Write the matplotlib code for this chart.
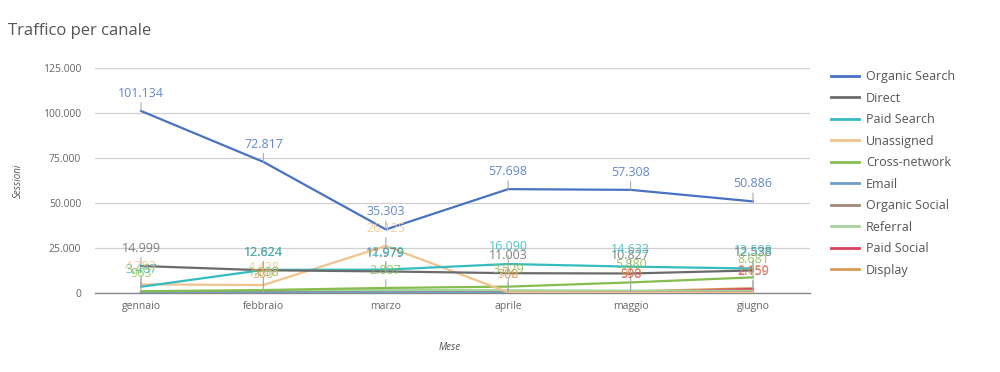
import matplotlib
matplotlib.use("Agg")
import matplotlib.pyplot as plt
from matplotlib.lines import Line2D

plt.rcParams['font.family'] = ['Open Sans', 'DejaVu Sans']

months = ["gennaio", "febbraio", "marzo", "aprile", "maggio", "giugno"]
organic_search = [101134, 72817, 35303, 57698, 57308, 50886]
direct = [14999, 12624, 11979, 11003, 10827, 12538]
paid_search = [3467, 12824, 12979, 16090, 14633, 13598]
unassigned = [4783, 4428, 26125, 362, 245, 180]
cross_network = [963, 1638, 2807, 3529, 5880, 8681]
email = [120, 150, 200, 180, 160, 150]
organic_social = [300, 350, 400, 380, 420, 400]
referral = [700, 900, 1700, 1500, 1300, 1200]
paid_social = [0, 0, 0, 200, 598, 2159]
display = [200, 300, 250, 700, 900, 2650]

series = [
    ("Organic Search", organic_search, "#4a72c2", True),
    ("Direct", direct, "#6b6b6b", True),
    ("Paid Search", paid_search, "#35bcc0", True),
    ("Unassigned", unassigned, "#f0c48c", True),
    ("Cross-network", cross_network, "#86bd4f", True),
    ("Email", email, "#6f9fc4", False),
    ("Organic Social", organic_social, "#a3887a", False),
    ("Referral", referral, "#a6d49c", False),
    ("Paid Social", paid_social, "#d8435a", True),
    ("Display", display, "#d99a58", True),
]

def fmt(v):
    return f"{v:,}".replace(",", ".")

fig = plt.figure(figsize=(10, 3.72), dpi=100)
ax = fig.add_axes([0.095, 0.2124, 0.715, 0.6048])
x = list(range(len(months)))

for name, vals, col, lab in reversed(series):
    ax.plot(x, vals, color=col, lw=1.6, zorder=3)

for name, vals, col, lab in series:
    if not lab:
        continue
    for xi, v in zip(x, vals):
        if v < 300:
            continue
        ax.annotate(fmt(v), xy=(xi, v), xytext=(0, 8), textcoords="offset points",
                    ha="center", va="bottom", fontsize=9, color=col, alpha=0.85,
                    arrowprops=dict(arrowstyle="-", color="#aaaaaa", lw=0.8,
                                    shrinkA=0, shrinkB=0), zorder=4)

ax.set_xlim(-0.376, 5.466)
ax.set_ylim(0, 125000)
ax.set_yticks([0, 25000, 50000, 75000, 100000, 125000])
ax.set_yticklabels([fmt(v) for v in [0, 25000, 50000, 75000, 100000, 125000]])
ax.set_xticks(x)
ax.set_xticklabels(months)
ax.tick_params(axis="both", length=0, labelsize=7.5, colors="#666666")
ax.tick_params(axis="y", pad=10)
ax.tick_params(axis="x", pad=6)
ax.grid(axis="y", color="#d0d0d0", lw=0.9)
ax.set_axisbelow(True)
for s in ["top", "right", "left"]:
    ax.spines[s].set_visible(False)
ax.spines["bottom"].set_color("#888888")
ax.spines["bottom"].set_linewidth(1.0)

fig.text(0.008, 0.918, "Traffico per canale", fontsize=12, color="#555555", ha="left", va="center")
fig.text(0.018, 0.515, "Sessioni", fontsize=7, style="italic", color="#555555", rotation=90, ha="center", va="center")
fig.text(0.45, 0.067, "Mese", fontsize=7, style="italic", color="#555555", ha="center", va="center")

handles = [Line2D([0], [0], color=c, lw=2) for n, v, c, l in series]
labels = [n for n, v, c, l in series]
leg = fig.legend(handles, labels, loc="upper left", bbox_to_anchor=(0.826, 0.825),
                 frameon=False, fontsize=9, handlelength=2.2, handletextpad=0.6,
                 labelspacing=0.68, labelcolor="#555555", borderaxespad=0)

fig.savefig("out.png", dpi=100)
